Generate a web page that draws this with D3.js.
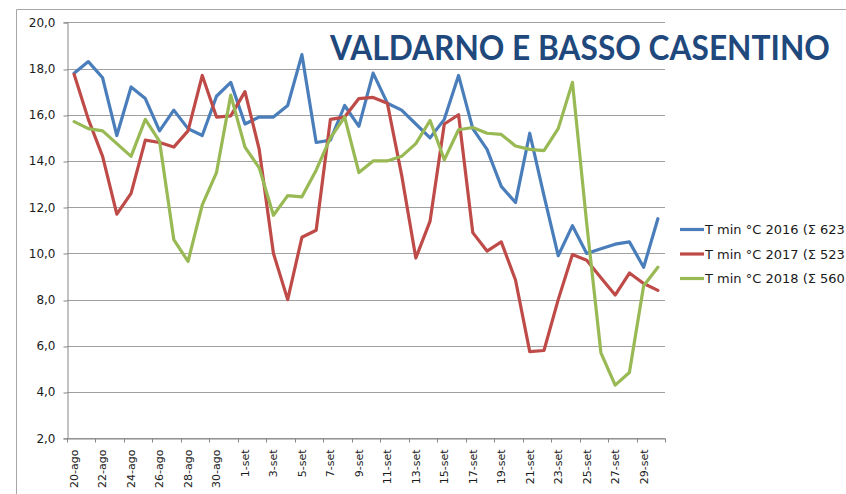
<!DOCTYPE html>
<html>
<head>
<meta charset="utf-8">
<script src="https://cdn.jsdelivr.net/npm/d3@7"></script>
<style>
  body { margin: 0; background: #fff; }
  svg { display: block; }
</style>
</head>
<body>
<svg width="846" height="494"></svg>
<script>
// data
const days = [
  "20-ago","21-ago","22-ago","23-ago","24-ago","25-ago","26-ago","27-ago","28-ago","29-ago","30-ago","31-ago",
  "1-set","2-set","3-set","4-set","5-set","6-set","7-set","8-set","9-set","10-set","11-set","12-set","13-set",
  "14-set","15-set","16-set","17-set","18-set","19-set","20-set","21-set","22-set","23-set","24-set","25-set",
  "26-set","27-set","28-set","29-set","30-set"
];
const tmin2016 = [17.8,18.3,17.6,15.1,17.2,16.7,15.3,16.2,15.4,15.1,16.8,17.4,15.6,15.9,15.9,16.4,18.6,14.8,14.9,16.4,15.5,
  17.8,16.5,16.2,15.6,15.0,15.8,17.7,15.4,14.5,12.9,12.2,15.2,12.5,9.9,11.2,10.0,10.2,10.4,10.5,9.4,11.5];
const tmin2017 = [17.75,15.8,14.2,11.7,12.6,14.9,14.8,14.6,15.3,17.7,15.9,15.95,17.0,14.5,10.0,8.0,10.7,11.0,15.8,15.9,16.7,
  16.75,16.5,13.4,9.8,11.4,15.6,16.0,10.9,10.1,10.5,8.85,5.75,5.8,8.0,9.95,9.7,8.95,8.2,9.15,8.7,8.4];
const tmin2018 = [15.7,15.4,15.3,14.75,14.2,15.8,14.85,10.6,9.65,12.1,13.5,16.85,14.6,13.7,11.65,12.5,12.45,13.6,15.0,15.9,13.5,
  14.0,14.0,14.2,14.75,15.75,14.05,15.35,15.45,15.2,15.15,14.65,14.5,14.45,15.4,17.4,11.3,5.7,4.3,4.85,8.6,9.4];
// legend names as far as the picture shows them (the rest is off the right edge)
const seriesNames = ["T min °C 2016 (Σ 623", "T min °C 2017 (Σ 523", "T min °C 2018 (Σ 560"];
const yTicks = [2, 4, 6, 8, 10, 12, 14, 16, 18, 20];
const title = "VALDARNO E BASSO CASENTINO";

const series = [
  { name: seriesNames[0], values: tmin2016, color: "#4a7ebb" },
  { name: seriesNames[1], values: tmin2017, color: "#be4b48" },
  { name: seriesNames[2], values: tmin2018, color: "#98b954" }
];

const svg = d3.select("svg");
const plot = { left: 67, right: 665, top: 22.3, bottom: 438.3 };
const fontAxis = "'DejaVu Sans', Verdana, sans-serif";

const x = d3.scaleBand()
  .domain(days)
  .range([plot.left, plot.right])
  .padding(0);

const y = d3.scaleLinear()
  .domain([2, 20])
  .range([plot.bottom, plot.top]);

const itFormat = d3.formatLocale({ decimal: ",", thousands: ".", grouping: [3], currency: ["", "€"] }).format(".1f");

// chart area border (partly outside the picture)
svg.append("path")
  .attr("d", "M16.5,494V9.5H846")
  .attr("fill", "none")
  .attr("stroke", "#a6a6a6")
  .attr("stroke-width", 1);

// gridlines
svg.append("g")
  .selectAll("line")
  .data(yTicks)
  .enter().append("line")
    .attr("x1", plot.left)
    .attr("x2", plot.right)
    .attr("y1", (d) => Math.round(y(d)) + 0.5)
    .attr("y2", (d) => Math.round(y(d)) + 0.5)
    .attr("stroke", "#a0a0a0")
    .attr("stroke-width", 1);

// y axis
const yAxis = svg.append("g")
  .attr("transform", `translate(${plot.left + 0.5},0)`)
  .call(d3.axisLeft(y).tickValues(yTicks).tickSize(4).tickFormat(itFormat));
yAxis.select(".domain").attr("stroke", "#868686");
yAxis.selectAll(".tick line")
  .attr("stroke", "#868686")
  .attr("transform", (d) => `translate(0,${Math.round(y(d)) + 0.5 - y(d)})`);
yAxis.selectAll("text")
  .attr("x", -12)
  .attr("fill", "#1a1a1a")
  .style("font-family", fontAxis)
  .style("font-size", "12px");

// x axis: labels at band centres, tick marks on band edges every 2 days
const labelDays = days.filter((d, i) => i % 2 === 0);
const xAxis = svg.append("g")
  .attr("transform", `translate(0,${Math.round(plot.bottom) + 0.5})`)
  .call(d3.axisBottom(x).tickValues(labelDays).tickSize(0).tickSizeOuter(0));
xAxis.select(".domain").attr("stroke", "#868686");
xAxis.selectAll("text")
  .attr("transform", "rotate(-90)")
  .attr("x", -11)
  .attr("y", 0)
  .attr("dy", "0.35em")
  .attr("text-anchor", "end")
  .attr("fill", "#1a1a1a")
  .style("font-family", fontAxis)
  .style("font-size", "11px");

xAxis.selectAll(".edge")
  .data(labelDays.map((d) => x(d)).concat([plot.right]))
  .enter().append("line")
    .attr("class", "edge")
    .attr("x1", (d) => Math.round(d) + 0.5)
    .attr("x2", (d) => Math.round(d) + 0.5)
    .attr("y1", 0)
    .attr("y2", 4)
    .attr("stroke", "#868686");

// lines
const line = d3.line()
  .x((d, i) => x(days[i]) + x.bandwidth() / 2)
  .y((d) => y(d));

svg.append("g")
  .selectAll("path")
  .data(series)
  .enter().append("path")
    .attr("d", (s) => line(s.values))
    .attr("fill", "none")
    .attr("stroke", (s) => s.color)
    .attr("stroke-width", 3.2)
    .attr("stroke-linejoin", "round")
    .attr("stroke-linecap", "round");

// legend
const legend = svg.append("g")
  .selectAll("g")
  .data(series)
  .enter().append("g")
    .attr("transform", (s, i) => `translate(680,${229.5 + i * 24.5})`);

legend.append("line")
  .attr("x1", 0)
  .attr("x2", 24)
  .attr("stroke", (s) => s.color)
  .attr("stroke-width", 3.2);

legend.append("text")
  .attr("x", 25)
  .attr("dy", "0.36em")
  .attr("fill", "#1a1a1a")
  .style("font-family", fontAxis)
  .style("font-size", "13px")
  .text((s) => s.name);

// title, squeezed horizontally to the width it has in the picture
const titleText = svg.append("text")
  .attr("fill", "#1f497d")
  .style("font-family", "Lato, 'Open Sans', sans-serif")
  .style("font-weight", "bold")
  .style("font-size", "34px")
  .text(title);
const titleW = titleText.node().getComputedTextLength();
titleText.attr("transform", `translate(330,60) scale(${Math.min(1, 500 / titleW)},1)`);
</script>
</body>
</html>
